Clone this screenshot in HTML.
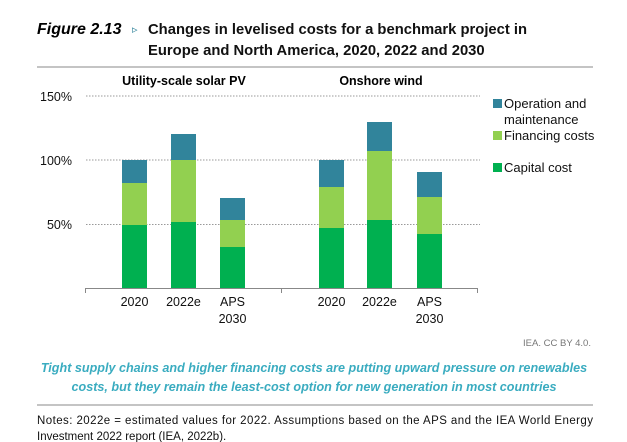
<!DOCTYPE html>
<html><head><style>
body{margin:0;width:627px;height:442px;background:#fff;overflow:hidden;font-family:"Liberation Sans",sans-serif}
svg{position:absolute;left:0;top:0}
</style></head><body>
<svg width="627" height="442" viewBox="0 0 627 442" xmlns="http://www.w3.org/2000/svg">
<text x="37" y="34" font-size="16" font-weight="bold" font-style="italic" fill="#000">Figure 2.13</text>
<text x="132" y="33" font-size="11" fill="#31849b">▹</text>
<text x="148" y="34" font-size="14.8" font-weight="bold" fill="#111">Changes in levelised costs for a benchmark project in</text>
<text x="148" y="55" font-size="14.8" font-weight="bold" fill="#111">Europe and North America, 2020, 2022 and 2030</text>
<line x1="37" y1="67" x2="593" y2="67" stroke="#888" stroke-width="1"/>
<text x="184" y="85" font-size="12.5" font-weight="bold" text-anchor="middle">Utility-scale solar PV</text>
<text x="381" y="85" font-size="12.5" font-weight="bold" text-anchor="middle">Onshore wind</text>
<g font-size="12.5" fill="#111" text-anchor="end">
<text x="72" y="101">150%</text><text x="72" y="165">100%</text><text x="72" y="229">50%</text>
</g>
<g stroke="#999" stroke-dasharray="1.5,1.5" stroke-width="1">
<line x1="86" y1="96" x2="480" y2="96"/><line x1="86" y1="160" x2="480" y2="160"/><line x1="86" y1="224.5" x2="480" y2="224.5"/>
</g>
<g>
<rect x="122" y="160" width="25" height="23" fill="#31849b"/><rect x="122" y="183" width="25" height="42" fill="#92d050"/><rect x="122" y="225" width="25" height="63" fill="#00b050"/>
<rect x="171" y="134" width="25" height="26" fill="#31849b"/><rect x="171" y="160" width="25" height="62" fill="#92d050"/><rect x="171" y="222" width="25" height="66" fill="#00b050"/>
<rect x="220" y="198" width="25" height="22" fill="#31849b"/><rect x="220" y="220" width="25" height="27" fill="#92d050"/><rect x="220" y="247" width="25" height="41" fill="#00b050"/>
<rect x="319" y="160" width="25" height="27" fill="#31849b"/><rect x="319" y="187" width="25" height="41" fill="#92d050"/><rect x="319" y="228" width="25" height="60" fill="#00b050"/>
<rect x="367" y="122" width="25" height="29" fill="#31849b"/><rect x="367" y="151" width="25" height="69" fill="#92d050"/><rect x="367" y="220" width="25" height="68" fill="#00b050"/>
<rect x="417" y="172" width="25" height="25" fill="#31849b"/><rect x="417" y="197" width="25" height="37" fill="#92d050"/><rect x="417" y="234" width="25" height="54" fill="#00b050"/>
</g>
<g stroke="#888" stroke-width="1"><line x1="85" y1="288.5" x2="478" y2="288.5"/><line x1="85.5" y1="288" x2="85.5" y2="293"/><line x1="281.5" y1="288" x2="281.5" y2="293"/><line x1="477.5" y1="288" x2="477.5" y2="293"/></g>
<g font-size="12.5" text-anchor="middle" fill="#111">
<text x="134.5" y="306">2020</text><text x="183.5" y="306">2022e</text><text x="232.5" y="306">APS</text><text x="232.5" y="323">2030</text>
<text x="331.5" y="306">2020</text><text x="379.5" y="306">2022e</text><text x="429.5" y="306">APS</text><text x="429.5" y="323">2030</text>
</g>
<g font-size="13" fill="#111">
<rect x="493" y="99" width="9" height="9" fill="#31849b"/><text x="504" y="108">Operation and</text><text x="504" y="124">maintenance</text>
<rect x="493" y="131" width="9" height="9" fill="#92d050"/><text x="504" y="140">Financing costs</text>
<rect x="493" y="163" width="9" height="9" fill="#00b050"/><text x="504" y="172">Capital cost</text>
</g>
<text x="591" y="346" font-size="9.5" fill="#777" text-anchor="end">IEA. CC BY 4.0.</text>
<g font-size="12.6" font-style="italic" font-weight="bold" fill="#3aacc0" text-anchor="middle">
<text x="314" y="372">Tight supply chains and higher financing costs are putting upward pressure on renewables</text>
<text x="314" y="391">costs, but they remain the least-cost option for new generation in most countries</text>
</g>
<line x1="37" y1="405" x2="593" y2="405" stroke="#888" stroke-width="1"/>
<g font-size="11.5" fill="#111">
<text x="37" y="424" textLength="556" lengthAdjust="spacing">Notes: 2022e = estimated values for 2022. Assumptions based on the APS and the IEA World Energy</text>
<text x="37" y="440">Investment 2022 report (IEA, 2022b).</text>
</g>
</svg>
</body></html>
